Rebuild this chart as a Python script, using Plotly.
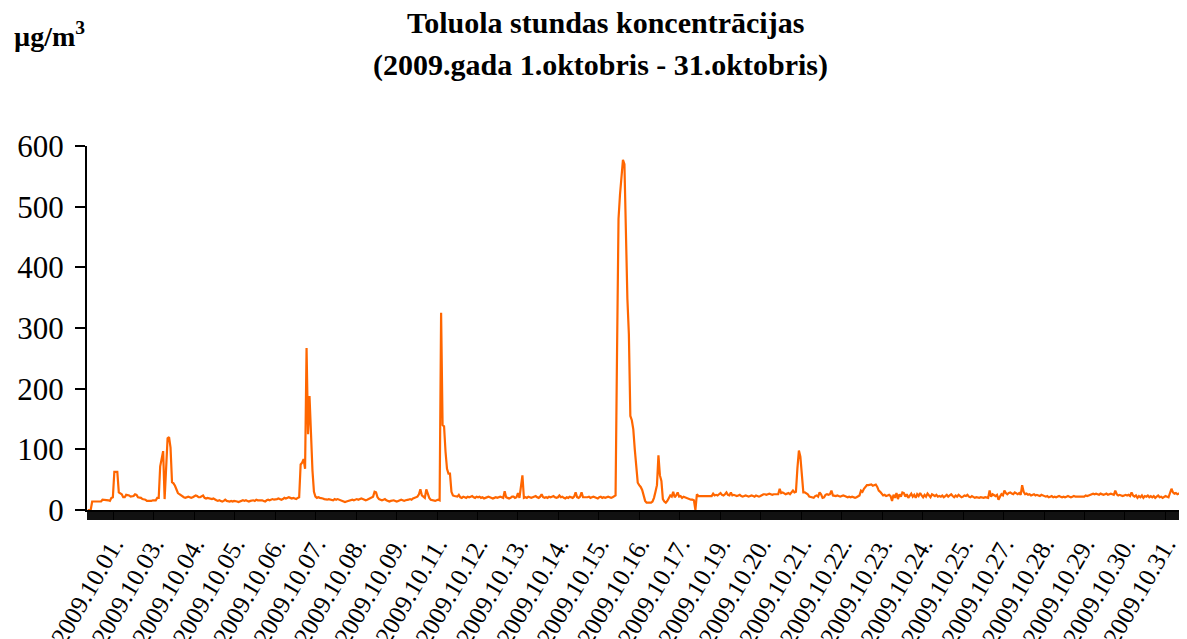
import plotly.graph_objects as go

# ---- data: hourly toluene concentration, µg/m3, 2009-10-01 .. 2009-10-31 ----
day_01 = [0, 0, 0, 14, 14, 14, 14, 14, 14, 14, 17, 17, 17, 16, 16, 15, 20, 21, 63, 63, 63, 29, 28, 26]
day_02 = [21, 21, 25, 25, 24, 22, 22, 23, 26, 25, 21, 21, 20, 18, 18, 17, 15, 15, 14, 15, 16, 16, 16, 20]
day_03 = [20, 72, 86, 97, 18, 76, 118, 120, 103, 46, 44, 40, 33, 28, 26, 24, 22, 21, 20, 21, 22, 21, 20, 21]
day_04 = [22, 24, 23, 21, 21, 22, 24, 20, 19, 20, 19, 18, 18, 19, 17, 16, 15, 16, 15, 14, 15, 17, 15, 14]
day_05 = [14, 15, 14, 15, 15, 14, 13, 14, 15, 16, 15, 16, 15, 14, 15, 16, 16, 15, 17, 16, 16, 17, 16, 15]
day_06 = [14, 16, 17, 16, 17, 18, 17, 17, 18, 19, 18, 17, 18, 20, 19, 20, 21, 20, 19, 20, 19, 18, 20, 21]
day_07 = [75, 78, 84, 68, 267, 125, 188, 120, 65, 30, 22, 20, 21, 20, 20, 19, 18, 17, 17, 18, 17, 16, 16, 18]
day_08 = [17, 18, 17, 16, 15, 14, 13, 14, 15, 16, 16, 17, 16, 17, 18, 17, 18, 19, 18, 17, 16, 17, 18, 19]
day_09 = [20, 22, 30, 29, 21, 18, 17, 16, 17, 18, 16, 15, 14, 15, 16, 16, 15, 14, 15, 16, 17, 16, 15, 16]
day_10 = [16, 17, 18, 17, 19, 20, 21, 22, 26, 34, 24, 22, 20, 34, 26, 20, 17, 16, 15, 15, 16, 17, 16, 325]
day_11 = [140, 138, 96, 68, 60, 60, 30, 24, 23, 22, 22, 25, 21, 20, 22, 21, 20, 22, 21, 22, 23, 21, 20, 22]
day_12 = [21, 22, 20, 21, 19, 20, 21, 22, 21, 20, 19, 20, 21, 20, 21, 22, 21, 20, 31, 21, 20, 19, 20, 22]
day_13 = [22, 20, 21, 28, 20, 38, 57, 20, 21, 20, 22, 21, 20, 21, 22, 23, 21, 20, 22, 26, 21, 20, 21, 20]
day_14 = [22, 21, 22, 23, 21, 20, 21, 24, 21, 22, 20, 19, 21, 20, 22, 21, 20, 22, 29, 21, 20, 22, 29, 21]
day_15 = [21, 20, 21, 22, 20, 21, 22, 21, 20, 19, 21, 22, 20, 21, 20, 21, 22, 21, 20, 21, 22, 24, 260, 480]
day_16 = [520, 552, 577, 570, 440, 348, 290, 155, 148, 133, 100, 66, 45, 41, 38, 33, 24, 15, 12, 12, 13, 12, 14, 20]
day_17 = [30, 41, 90, 57, 48, 18, 14, 12, 15, 20, 24, 22, 30, 21, 24, 29, 22, 23, 20, 22, 21, 20, 19, 17]
day_18 = [17, 17, 16, 0, 26, 23, 23, 23, 23, 23, 22, 23, 23, 23, 23, 27, 24, 25, 24, 26, 28, 25, 24, 26]
day_19 = [29, 25, 24, 29, 24, 25, 24, 23, 24, 25, 23, 22, 23, 24, 23, 22, 23, 24, 23, 22, 24, 23, 22, 23]
day_20 = [25, 26, 26, 25, 26, 27, 26, 25, 26, 26, 26, 26, 35, 28, 29, 27, 26, 27, 28, 26, 30, 32, 29, 30]
day_21 = [69, 98, 88, 60, 29, 29, 28, 26, 22, 21, 20, 20, 23, 24, 22, 29, 26, 20, 21, 25, 26, 25, 26, 32]
day_22 = [24, 23, 23, 24, 23, 22, 23, 24, 23, 22, 21, 22, 21, 22, 21, 20, 21, 22, 24, 32, 30, 35, 38, 41]
day_23 = [41, 41, 42, 40, 41, 42, 38, 32, 30, 26, 24, 25, 23, 24, 25, 23, 15, 25, 20, 28, 18, 26, 22, 29]
day_24 = [28, 22, 26, 20, 24, 27, 22, 25, 20, 26, 23, 28, 24, 21, 25, 22, 27, 23, 21, 26, 24, 23, 25, 22]
day_25 = [23, 22, 24, 21, 23, 25, 22, 24, 26, 23, 21, 24, 22, 25, 23, 21, 22, 24, 23, 25, 22, 21, 23, 22]
day_26 = [20, 21, 20, 20, 21, 20, 20, 21, 20, 20, 32, 22, 26, 24, 23, 25, 17, 22, 26, 24, 32, 28, 26, 28]
day_27 = [29, 27, 26, 29, 28, 26, 28, 25, 41, 30, 26, 27, 25, 26, 24, 25, 26, 24, 25, 24, 23, 25, 24, 23]
day_28 = [22, 23, 21, 22, 23, 21, 22, 21, 22, 23, 22, 21, 22, 21, 22, 23, 22, 21, 22, 23, 22, 22, 23, 22]
day_29 = [22, 23, 22, 24, 23, 24, 25, 26, 27, 26, 27, 26, 25, 27, 26, 25, 26, 27, 25, 26, 27, 26, 25, 32]
day_30 = [26, 24, 25, 24, 23, 24, 25, 24, 25, 23, 29, 24, 22, 24, 20, 23, 21, 24, 20, 23, 22, 24, 21, 23]
day_31 = [21, 23, 20, 22, 24, 21, 22, 20, 21, 23, 22, 21, 28, 35, 29, 27, 28, 26, 27, 28, 25, 24, 23, 78]

tick_labels = ["2009.10.01.", "2009.10.03.", "2009.10.04.", "2009.10.05.", "2009.10.06.",
               "2009.10.07.", "2009.10.08.", "2009.10.09.", "2009.10.11.", "2009.10.12.",
               "2009.10.13.", "2009.10.14.", "2009.10.15.", "2009.10.16.", "2009.10.17.",
               "2009.10.19.", "2009.10.20.", "2009.10.21.", "2009.10.22.", "2009.10.23.",
               "2009.10.24.", "2009.10.25.", "2009.10.27.", "2009.10.28.", "2009.10.29.",
               "2009.10.30.", "2009.10.31."]
y_ticks = [0, 100, 200, 300, 400, 500, 600]

concentration = (day_01 + day_02 + day_03 + day_04 + day_05 + day_06 + day_07 + day_08 +
                 day_09 + day_10 + day_11 + day_12 + day_13 + day_14 + day_15 + day_16 +
                 day_17 + day_18 + day_19 + day_20 + day_21 + day_22 + day_23 + day_24 +
                 day_25 + day_26 + day_27 + day_28 + day_29 + day_30 + day_31)
hours = list(range(len(concentration)))

# category label placement (Excel-like label interval)
label_first = 17.3
label_step = 27.37
tick_pos = [label_first + label_step * k for k in range(len(tick_labels))]

SERIF = "Liberation Serif, Times New Roman, serif"

# page body has an 8px default margin; size the figure so the plot lands where the reference has it
PAGE_PAD = 8
PLOT_LEFT, PLOT_TOP, PLOT_BOTTOM, PAGE_W, PAGE_H = 87, 146, 510, 1187, 639
PLOT_H = PLOT_BOTTOM - PLOT_TOP
PLOT_W = PAGE_W - PLOT_LEFT


def py(y_page):
    return (PLOT_BOTTOM - y_page) / PLOT_H


def px(x_page):
    return (x_page - PLOT_LEFT) / PLOT_W


fig = go.Figure()
fig.add_trace(go.Scatter(
    x=hours, y=concentration, mode="lines",
    line=dict(color="#FF6600", width=2.2),
    hoverinfo="skip", showlegend=False,
))

fig.update_layout(
    width=PAGE_W - PAGE_PAD, height=PAGE_H - PAGE_PAD,
    margin=dict(l=PLOT_LEFT - PAGE_PAD, r=0, t=PLOT_TOP - PAGE_PAD,
                b=PAGE_H - PLOT_BOTTOM, pad=0, autoexpand=False),
    paper_bgcolor="white", plot_bgcolor="white",
    annotations=[
        dict(text="Toluola stundas koncentrācijas", xref="paper", yref="paper",
             x=px(605), y=py(22), xanchor="center", yanchor="middle", showarrow=False,
             font=dict(family=SERIF, size=30, color="black", weight="bold")),
        dict(text="(2009.gada 1.oktobris - 31.oktobris)", xref="paper", yref="paper",
             x=px(600), y=py(65), xanchor="center", yanchor="middle", showarrow=False,
             font=dict(family=SERIF, size=30, color="black", weight="bold")),
        dict(text="µg/m<sup>3</sup>", xref="paper", yref="paper",
             x=px(12), y=py(34), xanchor="left", yanchor="middle", showarrow=False,
             font=dict(family=SERIF, size=28, color="black", weight="bold")),
    ],
)

fig.update_xaxes(
    range=[-0.5, len(concentration) - 0.5], automargin=False,
    showline=True, linecolor="black", linewidth=2,
    showgrid=False, zeroline=False,
    tickmode="array", tickvals=tick_pos, ticktext=tick_labels,
    ticks="outside", ticklen=8, tickcolor="black", tickwidth=1,
    tickangle=-60,
    tickfont=dict(family=SERIF, size=25, color="black"),
    minor=dict(tickmode="linear", tick0=0, dtick=1, ticks="outside",
               ticklen=8, tickcolor="#111111", tickwidth=1.5, showgrid=False),
)
fig.update_yaxes(
    range=[0, 600], tickvals=y_ticks, automargin=False,
    showline=True, linecolor="black", linewidth=2,
    showgrid=False, zeroline=False,
    ticks="outside", ticklen=10, tickcolor="black", tickwidth=1.5,
    ticklabelstandoff=5,
    tickfont=dict(family=SERIF, size=31, color="black"),
)

fig.write_html("out.html")
